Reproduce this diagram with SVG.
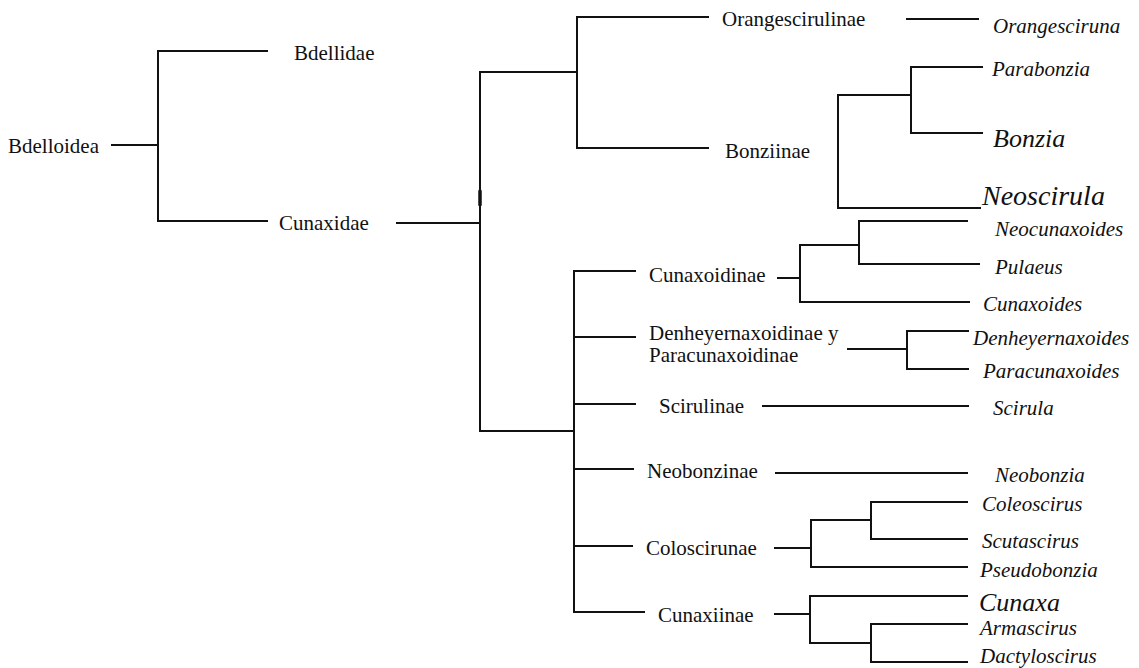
<svg xmlns="http://www.w3.org/2000/svg" width="1139" height="668" viewBox="0 0 1139 668">
<style>
.t{font-family:"Liberation Serif","Times New Roman",serif;font-size:21px;fill:#111}
.i{font-style:italic}
.c path{fill:none;stroke:#111;stroke-width:2;stroke-linecap:square}
</style>
<rect width="1139" height="668" fill="#fff"/>
<g id="connectors" class="c">
<path d="M112,145H158M158,51V221M158,51H267M158,221H267"/>
<path d="M397,223H480M480,72V431M480,72H577M480,431H574"/>
<path d="M577,17V148M577,17H708M577,148H708"/>
<path d="M907,19H978"/>
<path d="M838,95V208M838,95H911M911,67V133M911,67H982M911,133H982M838,208H980"/>
<path d="M574,271V612M574,271H635M574,337H635M574,404H635M574,469H633M574,546H632M574,612H644"/>
<path d="M778,278H800M800,245V302M800,245H859M859,221V264M859,221H967M859,264H979M800,302H969"/>
<path d="M848,349H907M907,331V369M907,331H968M907,369H968"/>
<path d="M763,406H968"/>
<path d="M776,473H967"/>
<path d="M775,548H811M811,520V567M811,520H871M871,502V539M871,502H967M871,539H967M811,567H967"/>
<path d="M775,614H810M810,596V643M810,596H967M810,643H871M871,624V662M871,624H967M871,662H967"/>
<path d="M480,192V204" style="stroke-width:3.5"/>
</g>
<g id="n-bdelloidea"><text class="t" x="8" y="153">Bdelloidea</text></g>
<g id="n-bdellidae"><text class="t" x="294" y="60">Bdellidae</text></g>
<g id="n-cunaxidae"><text class="t" x="279" y="230">Cunaxidae</text></g>
<g id="n-orangescirulinae"><text class="t" x="722" y="26">Orangescirulinae</text></g>
<g id="n-orangesciruna"><text class="t i" x="993" y="33">Orangesciruna</text></g>
<g id="n-bonziinae"><text class="t" x="725" y="158">Bonziinae</text></g>
<g id="n-parabonzia"><text class="t i" x="992" y="76">Parabonzia</text></g>
<g id="n-bonzia"><text class="t i" x="993" y="147" style="font-size:26px">Bonzia</text></g>
<g id="n-neoscirula"><text class="t i" x="982" y="205" style="font-size:28px">Neoscirula</text></g>
<g id="n-cunaxoidinae"><text class="t" x="649" y="282">Cunaxoidinae</text></g>
<g id="n-neocunaxoides"><text class="t i" x="995" y="236">Neocunaxoides</text></g>
<g id="n-pulaeus"><text class="t i" x="995" y="274">Pulaeus</text></g>
<g id="n-cunaxoides"><text class="t i" x="983" y="311">Cunaxoides</text></g>
<g id="n-denheyernaxoidinae"><text class="t" x="649" y="340">Denheyernaxoidinae y</text><text class="t" x="649" y="362">Paracunaxoidinae</text></g>
<g id="n-denheyernaxoides"><text class="t i" x="973" y="345">Denheyernaxoides</text></g>
<g id="n-paracunaxoides"><text class="t i" x="983" y="378">Paracunaxoides</text></g>
<g id="n-scirulinae"><text class="t" x="659" y="413">Scirulinae</text></g>
<g id="n-scirula"><text class="t i" x="993" y="415">Scirula</text></g>
<g id="n-neobonzinae"><text class="t" x="647" y="478">Neobonzinae</text></g>
<g id="n-neobonzia"><text class="t i" x="995" y="482">Neobonzia</text></g>
<g id="n-coloscirunae"><text class="t" x="646" y="555">Coloscirunae</text></g>
<g id="n-coleoscirus"><text class="t i" x="982" y="511">Coleoscirus</text></g>
<g id="n-scutascirus"><text class="t i" x="982" y="548">Scutascirus</text></g>
<g id="n-pseudobonzia"><text class="t i" x="980" y="577">Pseudobonzia</text></g>
<g id="n-cunaxiinae"><text class="t" x="658" y="622">Cunaxiinae</text></g>
<g id="n-cunaxa"><text class="t i" x="979" y="611" style="font-size:26px">Cunaxa</text></g>
<g id="n-armascirus"><text class="t i" x="980" y="635">Armascirus</text></g>
<g id="n-dactyloscirus"><text class="t i" x="980" y="663">Dactyloscirus</text></g>
</svg>
